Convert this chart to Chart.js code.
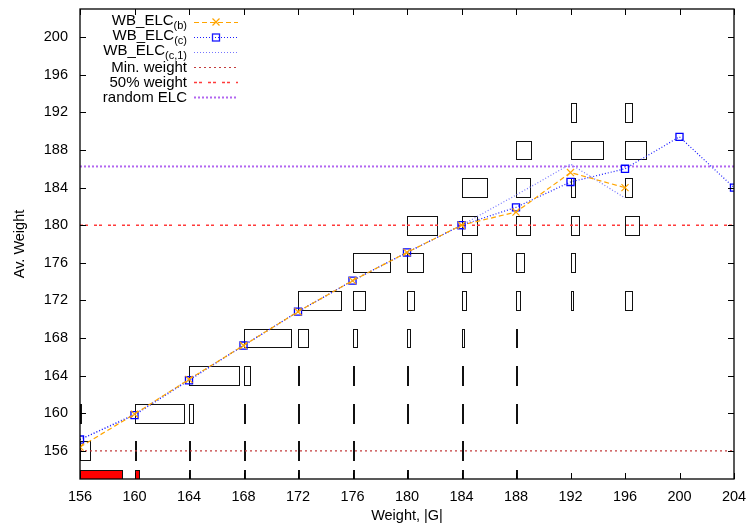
<!DOCTYPE html>
<html>
<head>
<meta charset="utf-8">
<script src="https://cdn.jsdelivr.net/npm/chart.js@4.4.0/dist/chart.umd.min.js"></script>
<style>
  html, body { margin: 0; padding: 0; background: #fff; }
  #wrap { width: 750px; height: 529px; }
</style>
</head>
<body>
<div id="wrap"><canvas id="c" width="750" height="529"></canvas></div>
<script>
// ---------- data ----------
const xTicks = [156, 160, 164, 168, 172, 176, 180, 184, 188, 192, 196, 200, 204];
const yTicks = [156, 160, 164, 168, 172, 176, 180, 184, 188, 192, 196, 200];

const weightsB = [156, 160, 164, 168, 172, 176, 180, 184, 188, 192, 196];
const wbElcB   = [156.4, 159.9, 163.6, 167.2, 170.8, 174.1, 177.1, 180.0, 181.4, 185.6, 184.0];

const weightsC = [156, 160, 164, 168, 172, 176, 180, 184, 188, 192, 196, 200, 204];
const wbElcC   = [157.2, 159.8, 163.5, 167.2, 170.8, 174.1, 177.1, 180.0, 181.9, 184.6, 186.0, 189.4, 184.0];

const weightsC1 = [156, 160, 164, 168, 172, 176, 180, 184, 188, 192, 196];
const wbElcC1   = [157.2, 159.9, 163.6, 167.2, 170.8, 174.1, 177.1, 180.0, 183.2, 186.5, 182.9];

const minWeight = 156;
const halfWeight = 180;
const randomElc = 186.25;

// distribution boxes: column weights, row levels, box widths per column (0 = none)
const boxColumns = [156, 160, 164, 168, 172, 176, 180, 184, 188, 192, 196];
const boxLevels  = [156, 160, 164, 168, 172, 176, 180, 184, 188, 192];
const row156 = [0.75, 0.08, 0.08, 0.08, 0.08, 0.08, 0,    0.08, 0,    0,    0];
const row160 = [0.08, 3.6,  0.27, 0.08, 0.08, 0.08, 0.08, 0.08, 0.08, 0,    0];
const row164 = [0,    0,    3.67, 0.45, 0.08, 0.08, 0.08, 0.1,  0.08, 0,    0];
const row168 = [0,    0,    0,    3.45, 0.73, 0.32, 0.2,  0.15, 0.08, 0,    0];
const row172 = [0,    0,    0,    0,    3.13, 0.93, 0.5,  0.32, 0.29, 0.17, 0.54];
const row176 = [0,    0,    0,    0,    0,    2.72, 1.15, 0.69, 0.56, 0.32, 0];
const row180 = [0,    0,    0,    0,    0,    0,    2.2,  1.15, 1.03, 0.59, 1.03];
const row184 = [0,    0,    0,    0,    0,    0,    0,    1.88, 1.0,  0.32, 0.54];
const row188 = [0,    0,    0,    0,    0,    0,    0,    0,    1.13, 2.35, 1.52];
const row192 = [0,    0,    0,    0,    0,    0,    0,    0,    0,    0.44, 0.54];
const boxRows = [row156, row160, row164, row168, row172, row176, row180, row184, row188, row192];
const redRow  = [3.1, 0.3, 0.08, 0.08, 0.08, 0.08, 0.08, 0.08, 0.08, 0, 0];
const redBottom = 153, redTop = 154;
const boxHalf = 1;

const xMin = 156, xMax = 204, yMin = 153, yMax = 203;

// ---------- helpers ----------
const pts = (xs, ys) => xs.map((x, i) => ({x, y: ys[i]}));
const FONT = '"Liberation Sans", Arial, Helvetica, sans-serif';

const styles = {
  b:    {color: '#ffa500', dash: [5, 3], width: 1.2},
  c:    {color: '#1a1aff', dash: [1, 2], width: 1.2},
  c1:   {color: '#7575ff', dash: [1, 2], width: 1.2},
  minW: {color: '#c43c3c', dash: [2, 3], width: 1.2},
  half: {color: '#ff3b3b', dash: [3, 2, 3, 6], width: 1.6},
  rnd:  {color: '#b266f0', dash: [2, 2], width: 2}
};

const legendItems = [
  {main: 'WB_ELC', sub: '(b)', st: styles.b, marker: 'x'},
  {main: 'WB_ELC', sub: '(c)', st: styles.c, marker: 'sq'},
  {main: 'WB_ELC', sub: '(c,1)', st: styles.c1},
  {main: 'Min. weight', st: styles.minW},
  {main: '50% weight', st: styles.half},
  {main: 'random ELC', st: styles.rnd}
];

const boxPlugin = {
  id: 'boxes',
  beforeDatasetsDraw(chart) {
    const {ctx, chartArea: a, scales: {x, y}} = chart;
    ctx.save();
    ctx.beginPath();
    ctx.rect(a.left, a.top, a.right - a.left, a.bottom - a.top);
    ctx.clip();
    ctx.lineWidth = 1;
    ctx.strokeStyle = '#111';
    boxLevels.forEach((lev, i) => {
      boxRows[i].forEach((w, j) => {
        if (!w) return;
        const x0 = Math.round(x.getPixelForValue(boxColumns[j]));
        const x1 = Math.round(x.getPixelForValue(boxColumns[j] + w));
        const y0 = Math.round(y.getPixelForValue(lev + boxHalf));
        const y1 = Math.round(y.getPixelForValue(lev - boxHalf));
        ctx.strokeRect(x0 + 0.5, y0 + 0.5, Math.max(1, x1 - x0), y1 - y0);
      });
    });
    redRow.forEach((w, j) => {
      if (!w) return;
      const x0 = Math.round(x.getPixelForValue(boxColumns[j]));
      const x1 = Math.round(x.getPixelForValue(boxColumns[j] + w));
      const y0 = Math.round(y.getPixelForValue(redTop));
      const y1 = Math.round(y.getPixelForValue(redBottom));
      ctx.fillStyle = '#ff0000';
      ctx.fillRect(x0, y0, Math.max(1, x1 - x0), y1 - y0);
      ctx.strokeStyle = '#111';
      ctx.strokeRect(x0 + 0.5, y0 + 0.5, Math.max(1, x1 - x0), y1 - y0);
    });
    ctx.restore();
  }
};

const framePlugin = {
  id: 'frame',
  afterDraw(chart) {
    const {ctx, chartArea: a, scales: {x, y}} = chart;
    ctx.save();
    ctx.strokeStyle = '#000';
    ctx.lineWidth = 1.3;
    ctx.setLineDash([]);
    ctx.strokeRect(a.left, a.top, a.right - a.left, a.bottom - a.top);
    ctx.lineWidth = 1;
    ctx.beginPath();
    const tl = 6;
    xTicks.forEach(v => {
      const px = Math.round(x.getPixelForValue(v)) + 0.5;
      ctx.moveTo(px, a.bottom); ctx.lineTo(px, a.bottom - tl);
      ctx.moveTo(px, a.top); ctx.lineTo(px, a.top + tl);
    });
    yTicks.forEach(v => {
      const py = Math.round(y.getPixelForValue(v)) + 0.5;
      ctx.moveTo(a.left, py); ctx.lineTo(a.left + tl, py);
      ctx.moveTo(a.right, py); ctx.lineTo(a.right - tl, py);
    });
    ctx.stroke();

    // legend
    const right = 187, sx0 = 194, sx1 = 238;
    legendItems.forEach((it, i) => {
      const cy = 22 + i * 15;
      ctx.fillStyle = '#000';
      ctx.textBaseline = 'alphabetic';
      ctx.font = '15px ' + FONT;
      const mw = ctx.measureText(it.main).width;
      let sw = 0;
      if (it.sub) { ctx.font = '11px ' + FONT; sw = ctx.measureText(it.sub).width; }
      const start = right - mw - sw;
      ctx.font = '15px ' + FONT;
      ctx.textAlign = 'left';
      const base = it.sub ? cy + 3 : cy + 5;
      ctx.fillText(it.main, start, base);
      if (it.sub) { ctx.font = '11px ' + FONT; ctx.fillText(it.sub, start + mw, base + 4); }
      // sample
      ctx.strokeStyle = it.st.color;
      ctx.lineWidth = it.st.width;
      ctx.setLineDash(it.st.dash);
      ctx.beginPath();
      ctx.moveTo(sx0, cy + 0.5); ctx.lineTo(sx1, cy + 0.5);
      ctx.stroke();
      ctx.setLineDash([]);
      const mx = (sx0 + sx1) / 2;
      if (it.marker === 'x') {
        ctx.lineWidth = 1.2;
        ctx.beginPath();
        ctx.moveTo(mx - 3.5, cy - 3.5); ctx.lineTo(mx + 3.5, cy + 3.5);
        ctx.moveTo(mx + 3.5, cy - 3.5); ctx.lineTo(mx - 3.5, cy + 3.5);
        ctx.stroke();
      } else if (it.marker === 'sq') {
        ctx.lineWidth = 1.3;
        ctx.strokeRect(mx - 3.5, cy - 3, 7, 7);
      }
    });
    ctx.restore();
  }
};

function lineDs(label, data, st, extra) {
  return Object.assign({
    label, data, showLine: true,
    borderColor: st.color, borderWidth: st.width, borderDash: st.dash,
    pointRadius: 0, fill: false, tension: 0
  }, extra || {});
}

const zeroPad = s => { s.paddingTop = 0; s.paddingBottom = 0; s.paddingLeft = 0; s.paddingRight = 0; };

new Chart(document.getElementById('c'), {
  type: 'scatter',
  data: {
    datasets: [
      lineDs('WB_ELC(b)', pts(weightsB, wbElcB), styles.b, {
        pointStyle: 'crossRot', pointRadius: 5, pointBorderColor: styles.b.color, pointBorderWidth: 1.2
      }),
      lineDs('WB_ELC(c)', pts(weightsC, wbElcC), styles.c, {
        pointStyle: 'rect', pointRadius: 5, pointBorderColor: '#0000ff',
        pointBackgroundColor: 'rgba(0,0,0,0)', pointBorderWidth: 1.3
      }),
      lineDs('WB_ELC(c,1)', pts(weightsC1, wbElcC1), styles.c1),
      lineDs('Min. weight', [{x: xMin, y: minWeight}, {x: xMax, y: minWeight}], styles.minW),
      lineDs('50% weight', [{x: xMin, y: halfWeight}, {x: xMax, y: halfWeight}], styles.half),
      lineDs('random ELC', [{x: xMin, y: randomElc}, {x: xMax, y: randomElc}], styles.rnd)
    ]
  },
  options: {
    responsive: false,
    devicePixelRatio: 1,
    animation: false,
    events: [],
    layout: {padding: {left: 0, right: 16, top: 9, bottom: 0}},
    plugins: {legend: {display: false}, tooltip: {enabled: false}},
    scales: {
      x: {
        type: 'linear', min: xMin, max: xMax,
        grid: {display: false, drawTicks: false, tickLength: 0},
        border: {display: false},
        afterBuildTicks: s => { s.ticks = xTicks.map(v => ({value: v})); },
        afterFit: s => { s.height = 50; zeroPad(s); },
        ticks: {color: '#000', font: {family: FONT, size: 14.5}, padding: 9, maxRotation: 0, autoSkip: false},
        title: {display: true, text: 'Weight, |G|', color: '#000', font: {family: FONT, size: 14.5}, padding: {top: 0, bottom: 4}}
      },
      y: {
        type: 'linear', min: yMin, max: yMax,
        grid: {display: false, drawTicks: false, tickLength: 0},
        border: {display: false},
        afterBuildTicks: s => { s.ticks = yTicks.map(v => ({value: v})); },
        afterFit: s => { s.width = 80; zeroPad(s); },
        ticks: {color: '#000', font: {family: FONT, size: 14.5}, padding: 12, autoSkip: false},
        title: {display: true, text: 'Av. Weight', color: '#000', font: {family: FONT, size: 14.5}, padding: {top: 11, bottom: 0}}
      }
    }
  },
  plugins: [boxPlugin, framePlugin]
});
</script>
</body>
</html>
